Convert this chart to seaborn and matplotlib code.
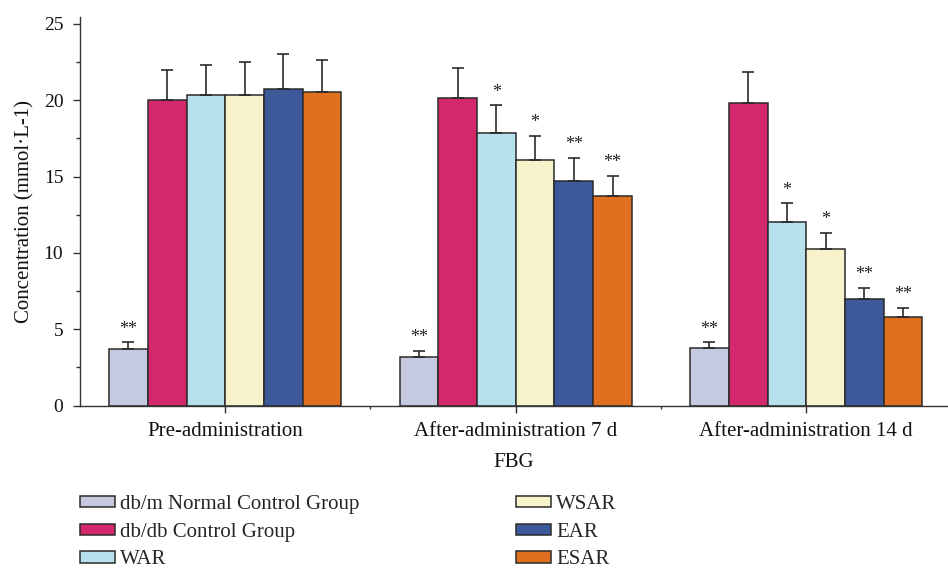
import numpy as np
import pandas as pd
import matplotlib
matplotlib.use("Agg")
import matplotlib.pyplot as plt
from matplotlib.ticker import MultipleLocator
import seaborn as sns

# Fasting blood glucose per group at three time points
timepoints = ["Pre-administration", "After-administration 7 d", "After-administration 14 d"]
groups = ["db/m Normal Control Group", "db/db Control Group", "WAR", "WSAR", "EAR", "ESAR"]

means = {
    "db/m Normal Control Group": [3.70, 3.18, 3.79],
    "db/db Control Group":       [20.00, 20.13, 19.82],
    "WAR":                       [20.33, 17.88, 12.00],
    "WSAR":                      [20.33, 16.09, 10.26],
    "EAR":                       [20.76, 14.73, 6.98],
    "ESAR":                      [20.54, 13.75, 5.80],
}
sds = {
    "db/m Normal Control Group": [0.45, 0.40, 0.35],
    "db/db Control Group":       [2.00, 2.00, 2.00],
    "WAR":                       [2.00, 1.80, 1.25],
    "WSAR":                      [2.15, 1.57, 1.07],
    "EAR":                       [2.25, 1.50, 0.72],
    "ESAR":                      [2.10, 1.30, 0.60],
}
marks = {
    "db/m Normal Control Group": ["**", "**", "**"],
    "db/db Control Group":       ["", "", ""],
    "WAR":                       ["", "*", "*"],
    "WSAR":                      ["", "*", "*"],
    "EAR":                       ["", "**", "**"],
    "ESAR":                      ["", "**", "**"],
}
colors = ["#C5CAE0", "#D3286B", "#B8E1EE", "#F7F4CB", "#3C5A99", "#E07020"]

rows = []
for g in groups:
    for t, m in zip(timepoints, means[g]):
        rows.append({"time": t, "group": g, "value": m})
df = pd.DataFrame(rows)

sns.set_theme(style="ticks")
plt.rcParams["font.family"] = ["Liberation Serif", "DejaVu Serif"]
plt.rcParams["font.size"] = 15

fig = plt.figure(figsize=(9.48, 5.69), dpi=100)
ax = fig.add_axes([80 / 948, 163.5 / 569, 868 / 948, 388.5 / 569])

axis_col = "#333333"
text_col = "#111111"
sns.barplot(data=df, x="time", y="value", hue="group", hue_order=groups,
            order=timepoints, palette=colors, errorbar=None, width=0.8,
            edgecolor="#2b2b2b", linewidth=1.1, saturation=1.0, ax=ax)

# one-sided error bars and significance marks, positioned from the drawn bars
for g, cont in zip(groups, ax.containers):
    xs = [b.get_x() + b.get_width() / 2 for b in cont]
    hs = [b.get_height() for b in cont]
    err = sds[g]
    ax.errorbar(xs, hs, yerr=[np.zeros(len(err)), err], fmt="none",
                ecolor="#2b2b2b", elinewidth=1.2, capsize=4.3, capthick=1.2, zorder=3)
    for x, h, e, s in zip(xs, hs, err, marks[g]):
        if s:
            ax.text(x, h + e + 0.85, s, ha="center", va="center",
                    fontsize=13, color="#222222")

handles, labels = ax.get_legend_handles_labels()
if ax.get_legend() is not None:
    ax.get_legend().remove()

ax.set_xlim(-0.5, 2.488)
ax.set_ylim(0, 25.45)
ax.yaxis.set_major_locator(MultipleLocator(5))
ax.yaxis.set_minor_locator(MultipleLocator(2.5))
ax.set_xticks([0, 1, 2])
ax.set_xticks([0.5, 1.5], minor=True)
ax.tick_params(axis="both", which="major", direction="out", length=5,
               width=1.0, color=axis_col, labelcolor=text_col)
ax.tick_params(axis="y", which="major", labelsize=14, pad=7)
ax.tick_params(axis="x", which="major", labelsize=15, pad=7)
ax.tick_params(axis="y", which="minor", direction="out", length=3, width=1.0, color=axis_col)
ax.tick_params(axis="x", which="minor", direction="out", length=2.5, width=1.0, color=axis_col)
for side in ["top", "right"]:
    ax.spines[side].set_visible(False)
for side in ["left", "bottom"]:
    ax.spines[side].set_color(axis_col)
    ax.spines[side].set_linewidth(1.0)

ax.set_ylabel("Concentration (mmol·L-1)", fontsize=15, color=text_col, labelpad=7)
ax.set_xlabel("FBG", fontsize=15, color=text_col, labelpad=8.5)

# two-column legend below the axes
leg_kw = dict(frameon=False, fontsize=15, handlelength=1.68, handleheight=0.45,
              handletextpad=0.25, labelspacing=0.42, borderpad=0, borderaxespad=0,
              loc="upper left")
for h in handles:
    h.set_edgecolor("#2b2b2b")
    h.set_linewidth(1.1)
leg1 = fig.legend(handles[:3], labels[:3], bbox_to_anchor=(80 / 948, 1 - 495 / 569), **leg_kw)
leg2 = fig.legend(handles[3:], labels[3:], bbox_to_anchor=(516 / 948, 1 - 495 / 569), **leg_kw)

fig.savefig("out.png", dpi=100)
